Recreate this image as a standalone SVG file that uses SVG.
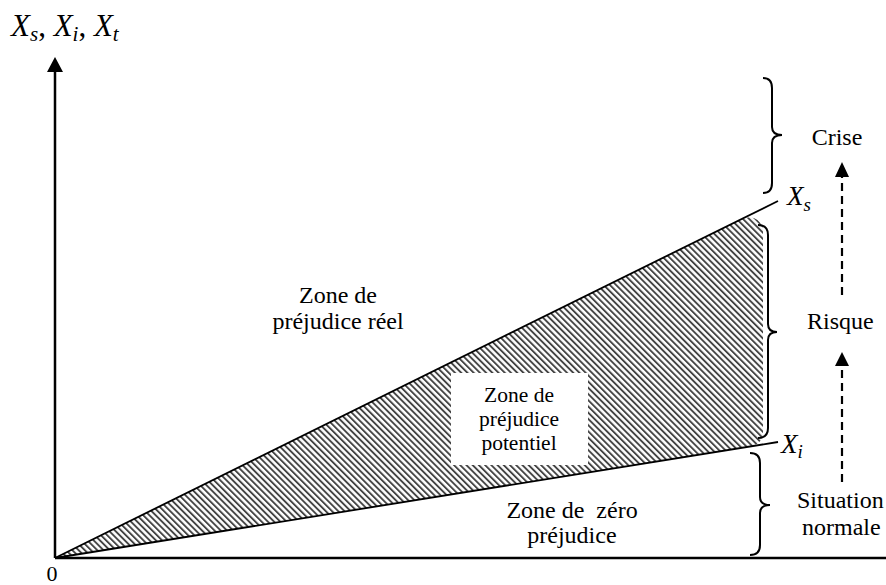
<svg xmlns="http://www.w3.org/2000/svg" width="886" height="585" viewBox="0 0 886 585">
<defs>
<pattern id="hatch" patternUnits="userSpaceOnUse" width="4.4" height="10" patternTransform="rotate(-45)">
<rect x="0" y="0" width="1.9" height="10" fill="#444"/>
</pattern>
</defs>
<style>
.brace{fill:none;stroke:#000;stroke-width:2}
.axis{stroke:#000;stroke-width:2.5;fill:none}
.ln{stroke:#000;stroke-width:1.8;fill:none}
.dash{stroke:#000;stroke-width:2.2;stroke-dasharray:8,5;fill:none}
</style>
<rect width="886" height="585" fill="#fff"/>
<g id="hatched-zone">
<path d="M55,558 L740,220 Q756,212 763,228 L763,436 Q760,444 752,446 Z" fill="url(#hatch)"/>
<rect x="451" y="373" width="137" height="92" fill="#fff"/>
</g>
<g id="connectors">
<line class="axis" x1="55" y1="558" x2="55" y2="72"/>
<path d="M47,72 L55,57 L63,72 Z" fill="#000"/>
<line class="axis" x1="55" y1="558" x2="886" y2="558"/>
<line class="ln" x1="55" y1="558" x2="778" y2="201"/>
<line class="ln" x1="55" y1="558" x2="778" y2="442"/>
<line class="dash" x1="842" y1="295" x2="842" y2="176"/>
<path d="M835,177 L842,162 L849,177 Z" fill="#000"/>
<line class="dash" x1="842" y1="482" x2="842" y2="364"/>
<path d="M835,366 L842,352 L849,366 Z" fill="#000"/>
</g>
<g id="braces">
<path class="brace" d="M763,78 Q772,78 772,88 L772,127 Q772,135 782,135 Q772,135 772,143 L772,183 Q772,193 763,193"/>
<path class="brace" d="M758,225 Q768,225 768,235 L768,324 Q768,332 777,332 Q768,332 768,340 L768,428 Q768,438 758,438"/>
<path class="brace" d="M750,453 Q760,453 760,463 L760,497 Q760,505 770,505 Q760,505 760,513 L760,545 Q760,555 750,555"/>
</g>
<g font-family="Liberation Serif" fill="#000">
<g id="axis-label">
<text x="11" y="36" font-size="31" font-style="italic">X<tspan font-size="21" dy="5">s</tspan><tspan font-size="31" dy="-5" font-style="normal">, </tspan>X<tspan font-size="21" dy="5">i</tspan><tspan font-size="31" dy="-5" font-style="normal">, </tspan>X<tspan font-size="21" dy="5">t</tspan></text>
</g>
<g id="origin"><text transform="translate(46.5,581) scale(0.733)" font-size="30">0</text></g>
<g id="label-xs"><text x="787" y="205" font-size="27" font-style="italic">X<tspan font-size="19" dy="6">s</tspan></text></g>
<g id="label-xi"><text x="781" y="453" font-size="27" font-style="italic">X<tspan font-size="19" dy="5">i</tspan></text></g>
<g id="zone-reel">
<text transform="translate(299,303) scale(0.8)" font-size="30">Zone de</text>
<text transform="translate(272.4,329) scale(0.8)" font-size="30">préjudice réel</text>
</g>
<g id="zone-potentiel">
<text transform="translate(484.1,402) scale(0.7167)" font-size="30">Zone de</text>
<text transform="translate(479,426) scale(0.7167)" font-size="30">préjudice</text>
<text transform="translate(481.4,450) scale(0.7167)" font-size="30">potentiel</text>
</g>
<g id="zone-zero">
<text transform="translate(506.4,518) scale(0.8)" font-size="30" xml:space="preserve">Zone de  zéro</text>
<text transform="translate(527.3,543) scale(0.8)" font-size="30">préjudice</text>
</g>
<g id="crise"><text transform="translate(811.7,145) scale(0.8)" font-size="30">Crise</text></g>
<g id="risque"><text transform="translate(807,329) scale(0.8)" font-size="30">Risque</text></g>
<g id="situation">
<text transform="translate(797,508) scale(0.8)" font-size="30">Situation</text>
<text transform="translate(802,535) scale(0.8)" font-size="30">normale</text>
</g>
</g>
</svg>
